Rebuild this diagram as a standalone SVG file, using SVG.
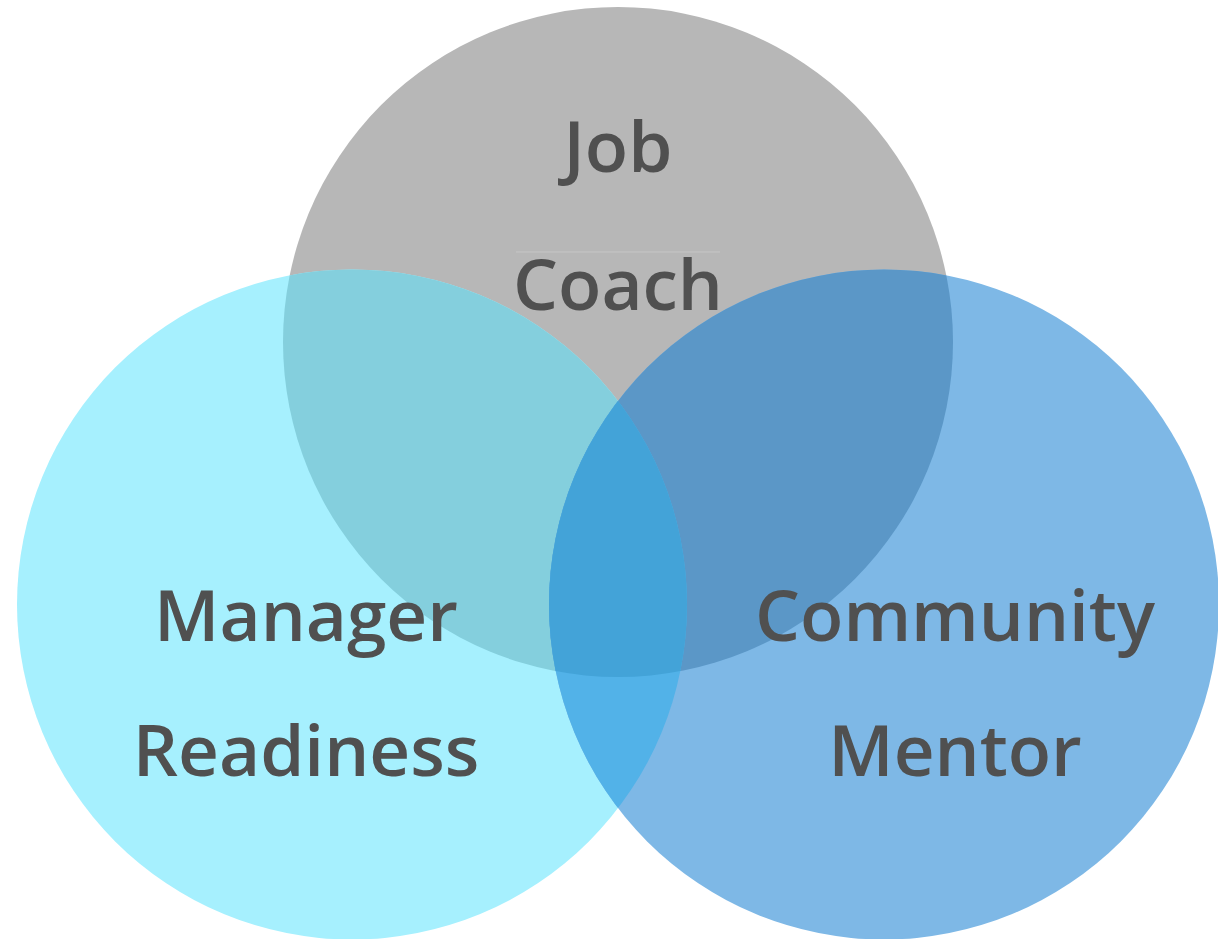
<svg xmlns="http://www.w3.org/2000/svg" width="1218" height="939" viewBox="0 0 1218 939">
  <style>
    .label { font-family: "Open Sans", "Noto Sans", "DejaVu Sans", sans-serif; font-size: 71px; font-weight: 600; fill: #505050; text-anchor: middle; }
  </style>
  <defs>
    <circle id="cTop" cx="618" cy="342" r="335"/>
    <circle id="cLeft" cx="352" cy="604.5" r="335"/>
    <circle id="cRight" cx="884" cy="604.5" r="335"/>
    <clipPath id="clipTop"><use href="#cTop"/></clipPath>
    <clipPath id="clipLeft"><use href="#cLeft"/></clipPath>
    <clipPath id="clipRight"><use href="#cRight"/></clipPath>
  </defs>
  <rect width="1218" height="939" fill="#ffffff"/>

  <!-- base circles -->
  <g id="job-coach"><use href="#cTop" fill="#B7B7B7"/></g>
  <g id="manager-readiness"><use href="#cLeft" fill="#A6F0FE"/></g>
  <g id="community-mentor"><use href="#cRight" fill="#7EB8E6"/></g>

  <!-- pairwise overlaps -->
  <g id="overlap-top-left" clip-path="url(#clipTop)"><use href="#cLeft" fill="#84CFDD"/></g>
  <g id="overlap-top-right" clip-path="url(#clipTop)"><use href="#cRight" fill="#5B97C7"/></g>
  <g id="overlap-left-right" clip-path="url(#clipLeft)"><use href="#cRight" fill="#52B2E8"/></g>

  <!-- triple overlap -->
  <g id="overlap-center" clip-path="url(#clipTop)">
    <g clip-path="url(#clipLeft)"><use href="#cRight" fill="#43A3D8"/></g>
  </g>

  <!-- faint text box edge above the second line -->
  <line x1="516" y1="252" x2="720" y2="252" stroke="#C6C6C6" stroke-width="1"/>

  <g id="labels">
    <text class="label" x="618" y="172">Job</text>
    <text class="label" x="618" y="310">Coach</text>
    <text class="label" x="306" y="641">Manager</text>
    <text class="label" x="306" y="776">Readiness</text>
    <text class="label" x="955" y="641">Community</text>
    <text class="label" x="955" y="776">Mentor</text>
  </g>
</svg>
